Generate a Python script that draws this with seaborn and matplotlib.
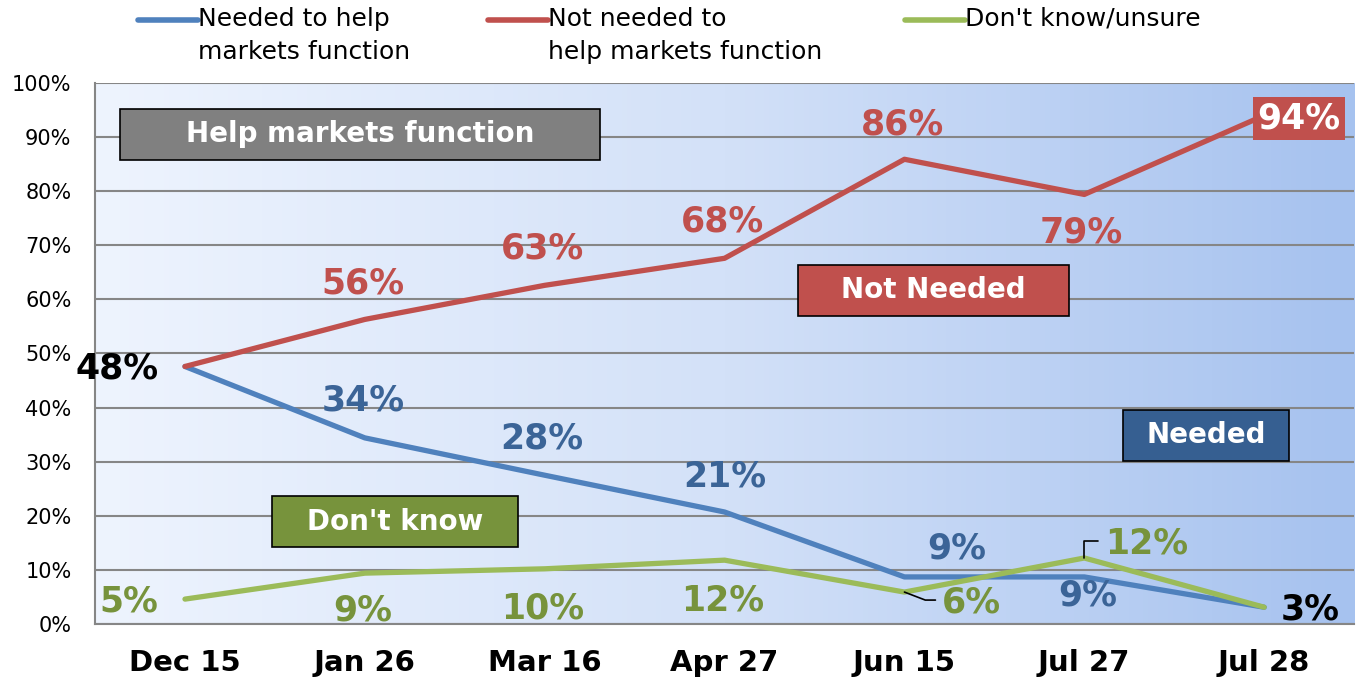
import matplotlib
matplotlib.use("Agg")
import matplotlib.pyplot as plt
import seaborn as sns
import numpy as np
import pandas as pd
from matplotlib.colors import LinearSegmentedColormap
from matplotlib.lines import Line2D
from matplotlib.patches import Rectangle

# data
dates = ["Dec 15", "Jan 26", "Mar 16", "Apr 27", "Jun 15", "Jul 27", "Jul 28"]
needed = [47.6, 34.4, 27.5, 20.7, 8.7, 8.7, 3.1]
not_needed = [47.6, 56.3, 62.6, 67.6, 85.9, 79.4, 94.0]
dont_know = [4.6, 9.4, 10.2, 11.8, 5.9, 12.2, 3.1]
series_names = ["Needed to help\nmarkets function",
                "Not needed to\nhelp markets function",
                "Don't know/unsure"]

line_colors = ["#4F81BD", "#C0504D", "#9BBB59"]
label_colors = ["#3B6497", "#C0504D", "#77933C"]

df = pd.DataFrame({
    "pos": list(range(len(dates))) * 3,
    "value": needed + not_needed + dont_know,
    "series": [n for n in series_names for _ in dates],
})

sns.set_style("white")
plt.rcParams["font.family"] = ["DejaVu Sans"]
plt.rcParams["text.color"] = "black"
plt.rcParams["xtick.labelcolor"] = "black"
plt.rcParams["ytick.labelcolor"] = "black"

fig = plt.figure(figsize=(13.56, 6.77), dpi=100)
ax = fig.add_axes([0.0701, 0.0783, 0.9285, 0.7991])

# gradient plot area background
cmap = LinearSegmentedColormap.from_list("bg", ["#EEF4FE", "#D3E1F8", "#A6C2EF"])
grad = np.linspace(0, 1, 256).reshape(1, -1)
ax.imshow(grad, extent=[0, 1, 0, 1], transform=ax.transAxes, aspect="auto",
          cmap=cmap, zorder=0)

sns.lineplot(data=df, x="pos", y="value", hue="series", hue_order=series_names,
             palette=line_colors, linewidth=3.8, legend=False, ax=ax, zorder=3)

ax.set_xlim(-0.5, len(dates) - 0.5)
ax.set_ylim(0, 100)
ax.set_xlabel("")
ax.set_ylabel("")

ax.set_yticks(range(0, 101, 10))
ax.set_yticklabels([f"{v}%" for v in range(0, 101, 10)], fontsize=15, color="black")
ax.set_xticks(range(len(dates)))
ax.set_xticklabels(dates, fontsize=21, fontweight="bold", color="black")
ax.set_xticks(np.arange(-0.5, len(dates), 1), minor=True)
ax.tick_params(axis="x", which="major", length=0, pad=18)
ax.tick_params(axis="x", which="minor", length=7, width=1.5, color="#868686")
ax.tick_params(axis="y", length=5, width=1.5, color="#868686", pad=12)

ax.grid(axis="y", color="#868686", linewidth=1.5)
ax.set_axisbelow(True)
for s in ["top", "right"]:
    ax.spines[s].set_visible(False)
for s in ["left", "bottom"]:
    ax.spines[s].set_color("#868686")
    ax.spines[s].set_linewidth(1.5)

# data labels: offset in pixels from the point
offsets = [
    [(-68, -2), (-2, 37), (-3, 37), (0, 36), (52, 28), (3, -19), (46, -2)],
    [None, (-2, 36), (-2, 37), (-2, 37), (-2, 35), (-3, -38), (35, -3)],
    [(-56, -2), (-2, -37), (-2, -40), (-2, -40), (67, -10), (62, 14), None],
]
all_vals = [needed, not_needed, dont_know]
for k, vals in enumerate(all_vals):
    for i, v in enumerate(vals):
        off = offsets[k][i]
        if off is None:
            continue
        color = label_colors[k]
        bbox = None
        if k == 0 and i in (0, 6):
            color = "black"
        if k == 1 and i == 6:
            color = "white"
            bbox = dict(boxstyle="square,pad=0.12", facecolor="#C0504D", edgecolor="none")
        ax.annotate(f"{round(v)}%", xy=(i, v), xytext=off, textcoords="offset pixels",
                    ha="center", va="center", fontsize=25, fontweight="bold",
                    color=color, bbox=bbox, zorder=6)

# leader lines for two green labels
ax.annotate("", xy=(4, dont_know[4]), xytext=(31, -8), textcoords="offset pixels",
            arrowprops=dict(arrowstyle="-", color="black", lw=1.2, shrinkA=0, shrinkB=0,
                            connectionstyle="angle,angleA=0,angleB=-21,rad=0"), zorder=5)
ax.annotate("", xy=(5, dont_know[5]), xytext=(14, 17), textcoords="offset pixels",
            arrowprops=dict(arrowstyle="-", color="black", lw=1.2, shrinkA=0, shrinkB=0,
                            connectionstyle="angle,angleA=0,angleB=90,rad=0"), zorder=5)

# category boxes
boxes = [
    ("Help markets function", 0.0199, 0.8577, 0.3813, "#808080"),
    ("Not Needed", 0.5584, 0.5693, 0.2153, "#C0504D"),
    ("Needed", 0.8165, 0.3013, 0.1318, "#365F91"),
    ("Don't know", 0.1406, 0.1423, 0.1954, "#77933C"),
]
for text, x0, y0, w, col in boxes:
    ax.add_patch(Rectangle((x0, y0), w, 0.0943, transform=ax.transAxes,
                           facecolor=col, edgecolor="black", linewidth=1.2, zorder=5))
    ax.text(x0 + w / 2, y0 + 0.0943 / 2, text, transform=ax.transAxes,
            ha="center", va="center", fontsize=20, fontweight="bold",
            color="white", zorder=6)

# legend drawn along the top
legend_x = [138, 488, 905]
for name, col, lx in zip(series_names, line_colors, legend_x):
    x0 = lx / 1356
    x1 = (lx + 60) / 1356
    y = 1 - 20 / 677
    fig.add_artist(Line2D([x0, x1], [y, y], color=col, linewidth=4,
                          transform=fig.transFigure))
    fig.text(x1, 1 - 7 / 677, name, ha="left", va="top", fontsize=18,
             linespacing=1.45, color="black")

plt.savefig("out.png", dpi=100)
plt.close()
